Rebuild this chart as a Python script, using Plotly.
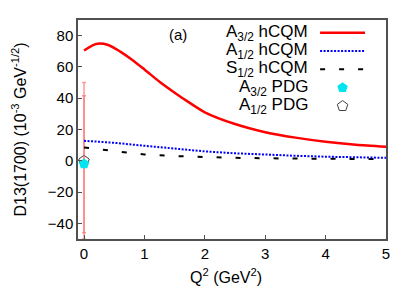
import plotly.graph_objects as go

# ---- data ----
q2_a32 = [0.0, 0.2, 0.4, 0.6, 0.8, 1.0, 1.25, 1.5, 1.75, 2.0, 2.5, 3.0, 3.5, 4.0, 4.5, 5.0]
a32_hcqm = [70.5, 74.7, 74.0, 69.8, 64.5, 58.4, 50.5, 43.5, 37.0, 31.0, 23.5, 18.3, 14.8, 12.2, 10.3, 9.0]

q2_a12 = [0.0, 0.5, 1.0, 1.5, 2.0, 2.5, 3.0, 3.5, 4.0, 4.5, 5.0]
a12_hcqm = [12.8, 11.5, 9.6, 7.6, 6.0, 4.8, 3.8, 3.2, 2.6, 2.2, 1.9]

q2_s12 = [0.0, 0.25, 0.5, 0.75, 1.0, 1.5, 2.0, 2.5, 3.0, 3.5, 4.0, 4.5, 5.0]
s12_hcqm = [8.5, 7.4, 6.0, 4.9, 4.0, 3.0, 2.3, 1.9, 1.6, 1.4, 1.2, 1.1, 1.0]

pdg_q2 = [0.0]
a32_pdg = [-2.0]
a32_pdg_err_plus = [43.5]
a32_pdg_err_minus = [44.0]
a12_pdg = [0.0]
a12_pdg_err = [50.0]

legend_labels = ["A<sub>3/2</sub> hCQM", "A<sub>1/2</sub> hCQM", "S<sub>1/2</sub> hCQM",
                 "A<sub>3/2</sub> PDG", "A<sub>1/2</sub> PDG"]

FONT = "Liberation Sans, Arial, Helvetica, sans-serif"
RED = "#ff0000"
BLUE = "#0000ff"
ERR = "rgba(255,110,110,0.7)"

fig = go.Figure()

fig.add_trace(go.Scatter(x=pdg_q2, y=a12_pdg, mode="markers",
                         marker=dict(symbol="pentagon-open", size=11, color="#404040", line=dict(width=1)),
                         error_y=dict(type="data", array=a12_pdg_err, color=ERR, thickness=1.5, width=2),
                         showlegend=False))
fig.add_trace(go.Scatter(x=pdg_q2, y=a32_pdg, mode="markers",
                         marker=dict(symbol="pentagon", size=11, color="#00e5ee"),
                         error_y=dict(type="data", symmetric=False, array=a32_pdg_err_plus,
                                      arrayminus=a32_pdg_err_minus, color=ERR, thickness=1.5, width=2),
                         showlegend=False))
fig.add_trace(go.Scatter(x=q2_s12, y=s12_hcqm, mode="lines",
                         line=dict(color="black", width=2, dash="5px,14px"), showlegend=False))
fig.add_trace(go.Scatter(x=q2_a12, y=a12_hcqm, mode="lines",
                         line=dict(color=BLUE, width=2, dash="2px,1.5px"), showlegend=False))
fig.add_trace(go.Scatter(x=q2_a32, y=a32_hcqm, mode="lines",
                         line=dict(color=RED, width=2.5, shape="spline", smoothing=0.7), showlegend=False))

# ---- custom legend (text right-aligned, samples on the right) ----
rows = [0.942, 0.858, 0.775, 0.691, 0.607]
xs0, xs1, xm = 0.786, 0.932, 0.859
for lab, yy in zip(legend_labels, rows):
    fig.add_annotation(x=0.752, y=yy, xref="paper", yref="paper", text=lab, showarrow=False,
                       xanchor="right", yanchor="middle", font=dict(family=FONT, size=17, color="black"))
fig.add_trace(go.Scatter(x=[xs0, xs1], y=[rows[0]] * 2, xaxis="x2", yaxis="y2", mode="lines",
                         line=dict(color=RED, width=2.5), showlegend=False, hoverinfo="skip"))
fig.add_trace(go.Scatter(x=[xs0, xs1], y=[rows[1]] * 2, xaxis="x2", yaxis="y2", mode="lines",
                         line=dict(color=BLUE, width=2, dash="2px,1.5px"), showlegend=False, hoverinfo="skip"))
fig.add_trace(go.Scatter(x=[xs0, xs1], y=[rows[2]] * 2, xaxis="x2", yaxis="y2", mode="lines",
                         line=dict(color="black", width=2, dash="5px,14px"), showlegend=False, hoverinfo="skip"))
fig.add_trace(go.Scatter(x=[xm], y=[rows[3]], xaxis="x2", yaxis="y2", mode="markers",
                         marker=dict(symbol="pentagon", size=11, color="#00e5ee"), showlegend=False, hoverinfo="skip"))
fig.add_trace(go.Scatter(x=[xm], y=[rows[4]], xaxis="x2", yaxis="y2", mode="markers",
                         marker=dict(symbol="pentagon-open", size=11, color="#404040"), showlegend=False, hoverinfo="skip"))

fig.add_annotation(x=0.325, y=0.935, xref="paper", yref="paper", text="(a)", showarrow=False,
                   xanchor="center", yanchor="middle", font=dict(family=FONT, size=15, color="black"))

# axis titles as annotations for exact placement
fig.add_annotation(x=-0.19, y=0.502, xref="paper", yref="paper", textangle=-90, showarrow=False,
                   text="D13(1700) (10<sup>-3</sup> GeV<sup>-1/2</sup>)", xanchor="center", yanchor="middle",
                   font=dict(family=FONT, size=16, color="black"))
fig.add_annotation(x=0.48, y=-0.17, xref="paper", yref="paper", showarrow=False,
                   text="Q<sup>2</sup> (GeV<sup>2</sup>)", xanchor="center", yanchor="middle",
                   font=dict(family=FONT, size=16, color="black"))

axis_common = dict(showgrid=False, zeroline=False, showline=True, linecolor="#505050", linewidth=1.5,
                   mirror=True, ticks="inside", ticklen=4, tickcolor="#505050", automargin=False,
                   tickfont=dict(family=FONT, size=15, color="black"))

# the page body adds an 8px margin, so the figure is 8px smaller and offsets reduced
fig.update_layout(
    width=407, height=283,
    margin=dict(l=70, r=29, t=12, b=52),
    paper_bgcolor="white", plot_bgcolor="white",
    font=dict(family=FONT, size=15, color="black"),
    xaxis=dict(range=[-0.1, 5], tickvals=[0, 1, 2, 3, 4, 5], **axis_common),
    yaxis=dict(range=[-50, 90], tickvals=[-40, -20, 0, 20, 40, 60, 80], **axis_common),
    xaxis2=dict(overlaying="x", range=[0, 1], visible=False),
    yaxis2=dict(overlaying="y", range=[0, 1], visible=False),
)

fig.write_html("out.html")
